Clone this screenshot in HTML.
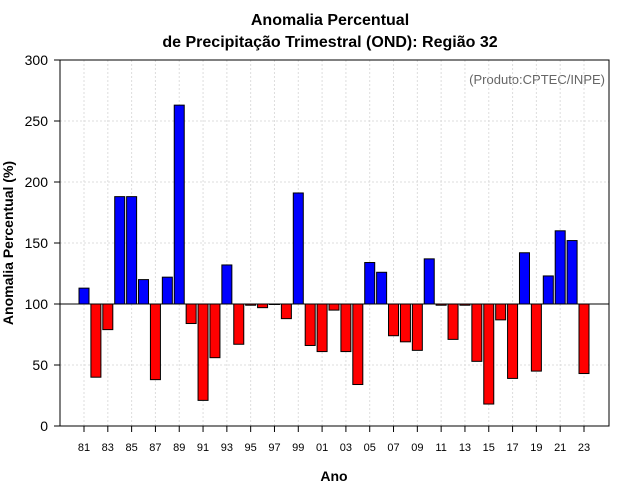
<!DOCTYPE html>
<html><head><meta charset="utf-8"><style>
body{margin:0;background:#fff;}
svg{display:block;font-family:"Liberation Sans",sans-serif;}
</style></head><body>
<svg id="c" width="640" height="500">
<text x="330" y="25" text-anchor="middle" font-size="16" font-weight="bold">Anomalia Percentual</text>
<text x="330" y="47" text-anchor="middle" font-size="16" font-weight="bold">de Precipitação Trimestral (OND): Região 32</text>
<text x="605" y="84" text-anchor="end" font-size="13" fill="#666">(Produto:CPTEC/INPE)</text>
<text x="334" y="481" text-anchor="middle" font-size="14" font-weight="bold">Ano</text>
<text transform="translate(13,243) rotate(-90)" text-anchor="middle" font-size="14" font-weight="bold">Anomalia Percentual (%)</text>
<g id="grid"></g><g id="bars"></g><g id="axes"></g>
</svg>
<script>
const years=[1981,1982,1983,1984,1985,1986,1987,1988,1989,1990,1991,1992,1993,1994,1995,1996,1997,1998,1999,2000,2001,2002,2003,2004,2005,2006,2007,2008,2009,2010,2011,2012,2013,2014,2015,2016,2017,2018,2019,2020,2021,2022,2023];
const values=[113,40,79,188,188,120,38,122,263,84,21,56,132,67,99,97,100,88,191,66,61,95,61,34,134,126,74,69,62,137,99,71,99,53,18,87,39,142,45,123,160,152,43];
const yTicks=[0,50,100,150,200,250,300];
const baseline=100;
const NS="http://www.w3.org/2000/svg";
const L=60,R=609,T=60,B=426;
const y=v=>B-(v-0)*(B-T)/300;
const x=yr=>84+(yr-1981)*(500/42);
function mk(tag,attrs,parent,text){const e=document.createElementNS(NS,tag);for(const k in attrs)e.setAttribute(k,attrs[k]);if(text!==undefined)e.textContent=text;parent.appendChild(e);return e;}
const grid=document.getElementById('grid'),bars=document.getElementById('bars'),axes=document.getElementById('axes');
yTicks.forEach(t=>{
 if(t>0&&t<300){const g=mk('line',{x1:L,x2:R,y1:y(t),y2:y(t),stroke:'#ddd','stroke-dasharray':'2,2'},grid);
 
 }
 const tk=mk('line',{x1:L-6,x2:L,y1:y(t),y2:y(t),stroke:'#000'},axes);
 
 
 const tl=mk('text',{x:L-12,y:y(t)+5,'text-anchor':'end','font-size':14},axes,String(t));
 
 
});
years.forEach((yr,i)=>{
 if(yr%2===1){
  const g=mk('line',{x1:x(yr),x2:x(yr),y1:T,y2:B,stroke:'#ddd','stroke-dasharray':'2,2'},grid);
  
  
  const tk=mk('line',{x1:x(yr),x2:x(yr),y1:B,y2:B+6,stroke:'#000'},axes);
  
  
  const tl=mk('text',{x:x(yr),y:B+25,'text-anchor':'middle','font-size':11},axes,String(yr%100).padStart(2,'0'));
  
  
 }
 const v=values[i];
 const top=Math.min(y(v),y(baseline)),h=Math.abs(y(v)-y(baseline));
 const r=mk('rect',{x:x(yr)-5,y:top,width:10,height:Math.max(h,0.5),fill:v>=baseline?'#0000ff':'#ff0000',stroke:'#000','stroke-width':1},bars);
 
 
});
const bl=mk('line',{x1:L,x2:R,y1:y(baseline),y2:y(baseline),stroke:'#000'},axes);


const fr=mk('rect',{x:L,y:T,width:R-L,height:B-T,fill:'none',stroke:'#000'},axes);


</script>
</body></html>
